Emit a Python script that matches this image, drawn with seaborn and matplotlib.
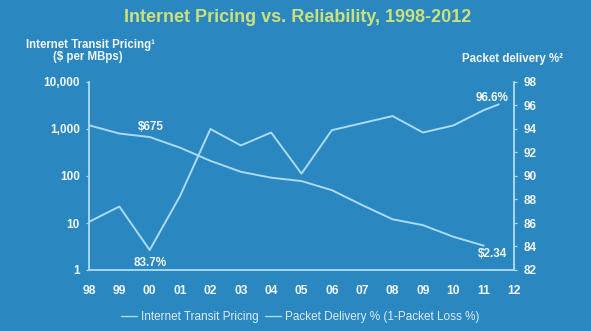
import matplotlib
matplotlib.use("Agg")
import matplotlib.pyplot as plt
import matplotlib.ticker as mticker
import seaborn as sns
import pandas as pd

# ---- data ----
years = [1998, 1999, 2000, 2001, 2002, 2003, 2004, 2005, 2006, 2007, 2008, 2009, 2010, 2011, 2012]
year_labels = ["98", "99", "00", "01", "02", "03", "04", "05", "06", "07", "08", "09", "10", "11", "12"]
pricing_years = [1998, 1999, 2000, 2001, 2002, 2003, 2004, 2005, 2006, 2007, 2008, 2009, 2010, 2011]
pricing = [1200, 800, 675, 400, 210, 123, 92, 78, 50, 24, 12, 9, 5.1, 3.3]
packet_years = [1998, 1999, 2000, 2001, 2002, 2003, 2004, 2005, 2006, 2007, 2008, 2009, 2010, 2011, 2011.5]
packet = [86.1, 87.4, 83.7, 88.3, 94.0, 92.6, 93.7, 90.2, 93.9, 94.5, 95.1, 93.7, 94.3, 95.6, 96.1]
left_ticks = [1, 10, 100, 1000, 10000]
right_ticks = [82, 84, 86, 88, 90, 92, 94, 96, 98]

BG = "#2a87bf"
LINE = "#aadbf4"
TXT = "#f3f7fa"
TITLE = "#cbe27c"

sns.set_theme(style="white")
plt.rcParams["font.family"] = ["Liberation Sans", "DejaVu Sans"]

fig = plt.figure(figsize=(5.91, 3.31), dpi=100, facecolor=BG)
W, H = 591, 331
ax = fig.add_axes([89 / W, 1 - 270 / H, (514 - 89) / W, (270 - 82) / H])
ax.set_facecolor(BG)
ax2 = ax.twinx()

df_p = pd.DataFrame({"year": pricing_years, "value": pricing})
df_k = pd.DataFrame({"year": packet_years, "value": packet})

sns.lineplot(data=df_p, x="year", y="value", ax=ax, color=LINE, linewidth=1.4,
             label="Internet Transit Pricing", legend=False)
sns.lineplot(data=df_k, x="year", y="value", ax=ax2, color=LINE, linewidth=1.4,
             label="Packet Delivery % (1-Packet Loss %)", legend=False)

ax.set_yscale("log")
ax.set_ylim(1, 10000)
ax.set_xlim(years[0], years[-1])
ax2.set_ylim(82, 98)
ax.set_xticks(years)
ax.set_xticklabels(year_labels)
ax.set_yticks(left_ticks)
ax.yaxis.set_major_formatter(mticker.FuncFormatter(lambda v, p: f"{int(v):,}"))
ax.yaxis.set_minor_locator(mticker.NullLocator())
ax2.set_yticks(right_ticks)
ax.set_xlabel("")
ax.set_ylabel("")
ax2.set_xlabel("")
ax2.set_ylabel("")

for a in (ax, ax2):
    for s in a.spines.values():
        s.set_color(LINE)
        s.set_linewidth(1.1)
    a.spines["top"].set_visible(False)
    a.grid(False)

ax.tick_params(axis="x", length=0, pad=10.5, labelsize=8.7, labelcolor=TXT)
ax.tick_params(axis="y", length=2.5, width=0.9, color=LINE, direction="out", pad=4,
               labelsize=8.5, labelcolor=TXT, left=True)
ax2.tick_params(axis="y", length=2.5, width=0.9, color=LINE, direction="out", pad=4.5,
                labelsize=8.5, labelcolor=TXT, right=True)
for lab in ax.get_xticklabels() + ax.get_yticklabels() + ax2.get_yticklabels():
    lab.set_fontweight("bold")

# annotations
ax.annotate("\\$675", xy=(pricing_years[2], pricing[2]), xytext=(1, 7), textcoords="offset points",
            ha="center", va="center", fontsize=8.5, fontweight="bold", color=TXT)
ax2.annotate("83.7%", xy=(packet_years[2], packet[2]), xytext=(0, -9), textcoords="offset points",
             ha="center", va="center", fontsize=8.5, fontweight="bold", color=TXT)
ax2.annotate("96.6%", xy=(packet_years[-1], packet[-1]), xytext=(7, 4.5), textcoords="offset points",
             ha="right", va="center", fontsize=8.5, fontweight="bold", color=TXT)
ax.annotate("\\$2.34", xy=(pricing_years[-1], pricing[-1]), xytext=(17, -6), textcoords="offset points",
            ha="right", va="center", fontsize=8.5, fontweight="bold", color=TXT)

# titles
fig.text(298 / W, 1 - 17 / H, "Internet Pricing vs. Reliability, 1998-2012", ha="center", va="center",
         fontsize=13, fontweight="bold", color=TITLE)
fig.text(90 / W, 1 - 45 / H, "Internet Transit Pricing\u00b9", ha="center", va="center",
         fontsize=8.3, fontweight="bold", color=TXT)
fig.text(88 / W, 1 - 57 / H, "($ per MBps)", ha="center", va="center",
         fontsize=8.3, fontweight="bold", color=TXT)
fig.text(512 / W, 1 - 59 / H, "Packet delivery %\u00b2", ha="center", va="center",
         fontsize=8.3, fontweight="bold", color=TXT)

# legend
h1, l1 = ax.get_legend_handles_labels()
h2, l2 = ax2.get_legend_handles_labels()
leg = fig.legend(h1 + h2, l1 + l2, loc="center", bbox_to_anchor=(300 / W, 1 - 317 / H), ncol=2,
                 frameon=False, fontsize=8.5, handlelength=1.4, handletextpad=0.3, columnspacing=0.5,
                 borderaxespad=0, borderpad=0)
for t in leg.get_texts():
    t.set_color("#dcecf7")
for ln in leg.get_lines():
    ln.set_linewidth(1.0)

fig.savefig("out.png", dpi=100, facecolor=BG)
